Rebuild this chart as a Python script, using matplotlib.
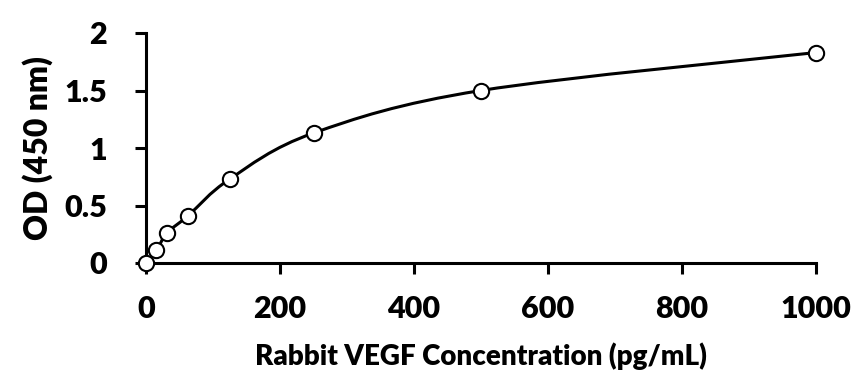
import numpy as np
import matplotlib
matplotlib.use("Agg")
import matplotlib.pyplot as plt
from matplotlib.path import Path
from matplotlib.patches import PathPatch

plt.rcParams['font.family'] = ['Lato', 'DejaVu Sans']

conc = [0, 15.6, 31.25, 62.5, 125, 250, 500, 1000]
od = [0.0, 0.11, 0.26, 0.41, 0.73, 1.13, 1.50, 1.83]
xticks = [0, 200, 400, 600, 800, 1000]
yticks = [0, 0.5, 1, 1.5, 2]
yticklabels = ['0', '0.5', '1', '1.5', '2']

fig = plt.figure(figsize=(8.63, 3.78), dpi=100)
ax = fig.add_axes([146/863, 1-263/378, 670/863, 230/378])

# smoothed line through the points (Catmull-Rom style bezier, like Excel)
pts = np.column_stack([conc, od])
verts = [pts[0]]
codes = [Path.MOVETO]
n = len(pts)
for i in range(n - 1):
    p0 = pts[i - 1] if i > 0 else pts[i]
    p1 = pts[i]
    p2 = pts[i + 1]
    p3 = pts[i + 2] if i + 2 < n else pts[i + 1]
    c1 = p1 + (p2 - p0) / 6
    c2 = p2 - (p3 - p1) / 6
    verts += [c1, c2, p2]
    codes += [Path.CURVE4] * 3
ax.add_patch(PathPatch(Path(verts, codes), fill=False, lw=2.2, color='black',
                       zorder=2))

ax.plot(conc, od, 'o', ms=11, mfc='white', mec='black', mew=1.5,
        clip_on=False, zorder=3)

ax.set_xlim(0, 1000)
ax.set_ylim(0, 2)
ax.set_xticks(xticks)
ax.set_yticks(yticks)
ax.set_yticklabels(yticklabels)
for s in ['top', 'right']:
    ax.spines[s].set_visible(False)
for s in ['left', 'bottom']:
    ax.spines[s].set_linewidth(2.2)
ax.tick_params(direction='out', length=8, width=2.2, labelsize=22)
ax.tick_params(axis='x', pad=15)
ax.tick_params(axis='y', pad=20)
for lab in ax.get_xticklabels() + ax.get_yticklabels():
    lab.set_fontweight('heavy')

ax.set_xlabel('Rabbit VEGF Concentration (pg/mL)', fontsize=20,
              fontweight='heavy', labelpad=14)
ax.set_ylabel('OD (450 nm)', fontsize=23, fontweight='heavy', labelpad=8)

fig.savefig('out.png', dpi=100)
